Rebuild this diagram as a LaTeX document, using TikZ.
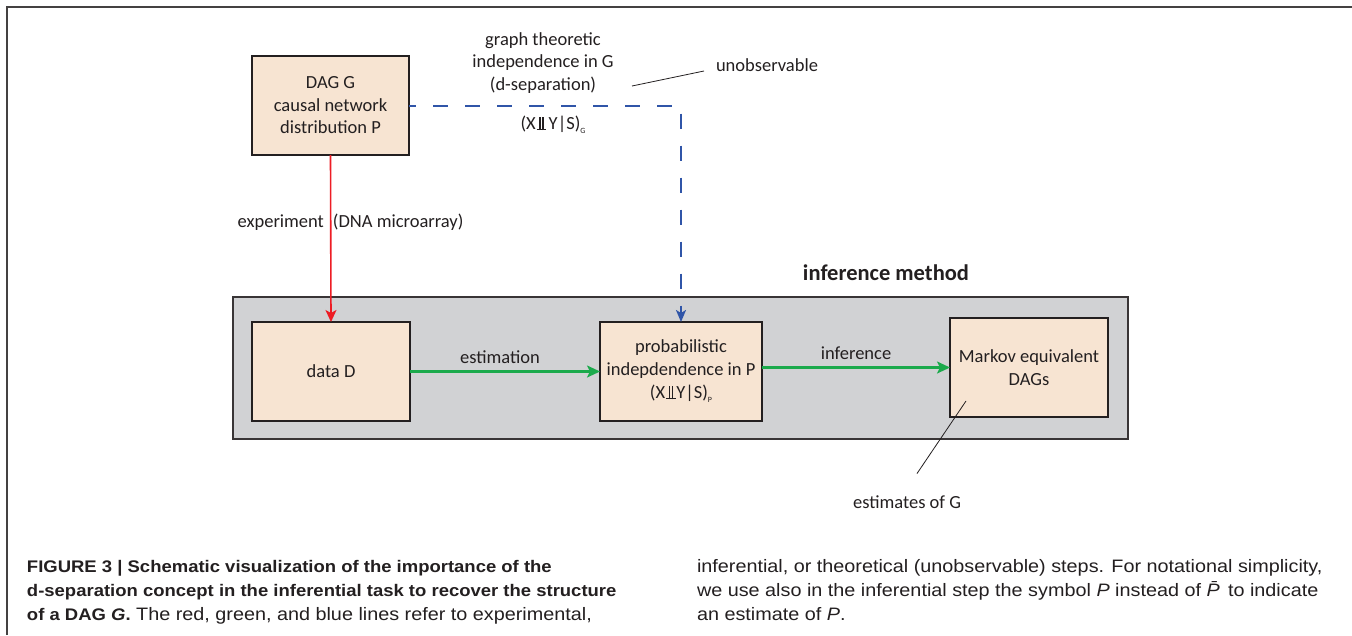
\documentclass[tikz,border=0pt]{standalone}
\usepackage{fontspec}
\setmainfont{Carlito}
\newfontfamily\capfont[FakeStretch=1.1]{Liberation Sans}
\usetikzlibrary{arrows.meta}
\definecolor{peach}{HTML}{F7E4D2}
\definecolor{graybg}{HTML}{D1D2D4}
\definecolor{edgec}{HTML}{231F20}
\definecolor{redc}{HTML}{ED1C24}
\definecolor{greenc}{HTML}{1BAA4C}
\definecolor{bluec}{HTML}{3055A8}
\newcommand\indepmark{\kern0.04em\rlap{\rule[-0.02em]{0.52em}{0.06em}}\kern0.16em\rule[-0.02em]{0.06em}{0.7em}\kern0.1em\rule[-0.02em]{0.06em}{0.7em}\kern0.18em}
\newcommand\subtx[1]{\raisebox{-0.45ex}{\fontsize{8}{8}\selectfont #1}}
\begin{document}
\begin{tikzpicture}[x=1pt,y=-1pt,
  every node/.style={inner sep=0pt,outer sep=0pt},
  lbl/.style={font=\fontsize{18.5}{22.5}\selectfont, align=center, text=edgec},
  peachbox/.style={lbl, draw=edgec, line width=1.5pt, fill=peach, minimum height=99pt},
  graybox/.style={draw=edgec!90, line width=2pt, fill=graybg, minimum width=895pt, minimum height=142pt},
  redline/.style={draw=redc, line width=1.6pt, -{Stealth[length=12pt,width=11pt,inset=3pt]}},
  greenline/.style={draw=greenc, line width=2.3pt, -{Stealth[length=13pt,width=12pt,inset=3pt]}},
  blueline/.style={draw=bluec, line width=2pt, dash pattern=on 15pt off 17pt, dash phase=8pt, -{Stealth[length=12pt,width=10pt,inset=3pt]}},
  leaderline/.style={draw=edgec, line width=0.8pt},
  frameline/.style={draw=edgec!85, line width=1.5pt},
  capl/.style={anchor=base west, text=edgec, font=\capfont\fontsize{18}{24}\selectfont},
  capb/.style={anchor=base west, text=edgec, font=\capfont\fontsize{16.8}{24}\selectfont\bfseries}
]
\useasboundingbox (0,0) rectangle (1352,635);
\fill[white] (0,0) rectangle (1352,635);
% frame
\draw[frameline] (7,635) -- (7,7) -- (1352,7);

% container
\node[graybox] (method) at (680.5,368) {};
\node[font=\fontsize{22.5}{26}\selectfont\bfseries, text=edgec] (methodlbl) at (886,273) {inference method};

% boxes
\node[peachbox, minimum width=157pt] (dag) at (330.5,105.5) {DAG G\\causal network\\distribution P};
\node[peachbox, minimum width=158pt] (data) at (331,371.5) {data D};
\node[peachbox, minimum width=162pt] (prob) at (681,371.5) {probabilistic\\indepdendence in P\\[1pt](X\indepmark Y|S)\subtx{P}};
\node[peachbox, minimum width=158pt] (markov) at (1029,367.5) {Markov equivalent\\DAGs};

% labels
\node[lbl] (gt) at (543,63) {graph theoretic\\independence in G\\(d-separation)};
\node[lbl] (indg) at (553,125) {(X\indepmark\kern0.1em Y|S)\subtx{G}};
\node[lbl] (unobs) at (767,65) {unobservable};
\node[lbl] (exper) at (350.5,222) {experiment\hspace{9pt}(DNA microarray)};
\node[lbl] (estim) at (500,357) {estimation};
\node[lbl] (infer) at (856,353) {inference};
\node[lbl] (estg) at (907,502) {estimates of G};

% connectors
\draw[redline] (dag.south) -- (data.north);
\draw[blueline] (dag.east) -| (prob.north);
\draw[greenline] (data.east) -- (prob.west);
\draw[greenline] (prob.east |- markov.west) -- (markov.west);

% leaders
\coordinate (unobsend) at (632,86);
\coordinate (estend) at (966,401);
\draw[leaderline] ([shift={(-12pt,-6pt)}]unobs.west) -- (unobsend);
\draw[leaderline] ([shift={(10pt,22pt)}]estg.north) -- (estend);

% caption
\node[capb] (c1) at (27,572) {FIGURE 3 | Schematic visualization of the importance of the};
\node[capb] (c2) at (27,596) {d-separation concept in the inferential task to recover the structure};
\node[capb] (c3) at (27,620) {of a DAG \textit{G}.\mdseries\fontsize{18}{24}\selectfont\ The red, green, and blue lines refer to experimental,};
\node[capl] (c4) at (697,572) {inferential, or theoretical (unobservable) steps. For notational simplicity,};
\node[capl] (c5) at (697,596) {we use also in the inferential step the symbol \textit{P} instead of \textit{P̄} to indicate};
\node[capl] (c6) at (697,620) {an estimate of \textit{P}.};
\end{tikzpicture}
\end{document}
